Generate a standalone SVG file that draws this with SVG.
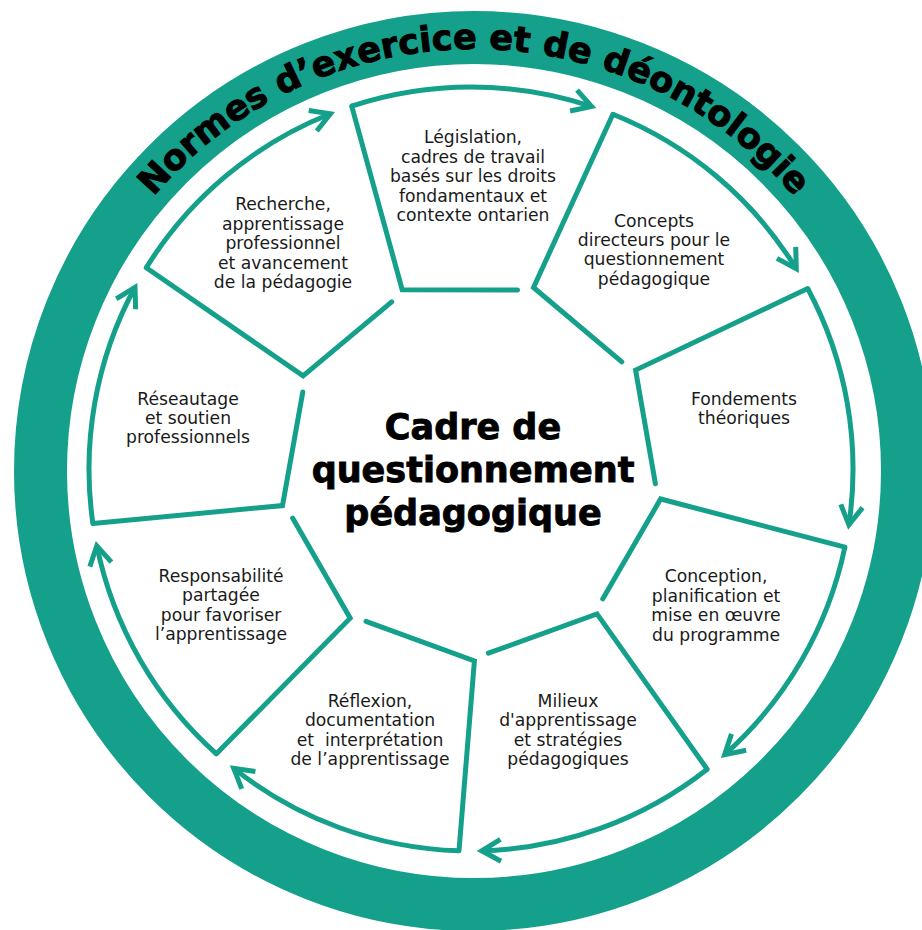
<svg xmlns="http://www.w3.org/2000/svg" xmlns:xlink="http://www.w3.org/1999/xlink" width="922" height="930" viewBox="0 0 922 930">
<style>
.edge{fill:none;stroke:#14a08b;stroke-width:5;stroke-linejoin:miter;stroke-linecap:round}
.arc{fill:none;stroke:#14a08b;stroke-width:5;stroke-linecap:butt;marker-end:url(#ah)}
.lbl{font-family:"DejaVu Sans",sans-serif;font-size:17.2px;fill:#1a1a1a;text-anchor:middle}
.title{font-family:"DejaVu Sans",sans-serif;font-weight:bold;font-size:35px;fill:#000;stroke:#000;stroke-width:0.9;text-anchor:middle}
.ringtxt{font-family:"DejaVu Sans",sans-serif;font-weight:bold;font-size:35px;fill:#000;stroke:#000;stroke-width:1}
</style>
<defs>
<marker id="ah" markerUnits="userSpaceOnUse" markerWidth="30" markerHeight="30" viewBox="-25 -15 30 30" refX="0" refY="0" orient="auto" overflow="visible">
<path d="M-19,-11 L0,0 L-19,11" fill="none" stroke="#14a08b" stroke-width="5" stroke-linejoin="miter"/>
</marker>
<path id="ringPath" d="M 52,471 A 422 422 0 0 1 896,471"/>
</defs>
<rect width="922" height="930" fill="#fff"/>
<g id="ring">
<circle cx="474" cy="471" r="433.5" fill="none" stroke="#14a08b" stroke-width="53"/>
<text class="ringtxt"><textPath xlink:href="#ringPath" href="#ringPath" startOffset="50%" text-anchor="middle">Normes d’exercice et de déontologie</textPath></text>
</g>
<g id="connectors">
<path class="arc" d="M146.3,267.7 A382,382 0 0 1 330.4,113.8"/>
<path class="arc" d="M351.7,106.1 A382,382 0 0 1 591.6,106.5"/>
<path class="arc" d="M612.9,114.3 A382,382 0 0 1 796.3,268.8"/>
<path class="arc" d="M807.7,288.5 A382,382 0 0 1 848.9,524.8"/>
<path class="arc" d="M844.9,547.1 A382,382 0 0 1 724.6,754.7"/>
<path class="arc" d="M707.2,769.2 A382,382 0 0 1 481.7,850.8"/>
<path class="arc" d="M459.0,850.8 A382,382 0 0 1 233.7,768.4"/>
<path class="arc" d="M216.4,753.8 A382,382 0 0 1 96.8,545.8"/>
<path class="arc" d="M92.9,523.5 A382,382 0 0 1 135.0,287.3"/>
</g>
<g id="node-recherche">
<path class="edge" d="M391.7,301.9 L303.1,375.9 L146.3,267.7"/>
<text class="lbl" x="283" y="210"><tspan x="283">Recherche,</tspan><tspan x="283" dy="19.5">apprentissage</tspan><tspan x="283" dy="19.5">professionnel</tspan><tspan x="283" dy="19.5">et avancement</tspan><tspan x="283" dy="19.5">de la pédagogie</tspan></text>
</g>
<g id="node-legislation">
<path class="edge" d="M517.6,290.0 L402.2,289.7 L351.7,106.1"/>
<text class="lbl" x="473" y="143"><tspan x="473">Législation,</tspan><tspan x="473" dy="19.5">cadres de travail</tspan><tspan x="473" dy="19.5">basés sur les droits</tspan><tspan x="473" dy="19.5">fondamentaux et</tspan><tspan x="473" dy="19.5">contexte ontarien</tspan></text>
</g>
<g id="node-concepts">
<path class="edge" d="M621.8,361.8 L533.5,287.5 L612.9,114.3"/>
<text class="lbl" x="654" y="227"><tspan x="654">Concepts</tspan><tspan x="654" dy="19.2">directeurs pour le</tspan><tspan x="654" dy="19.2">questionnement</tspan><tspan x="654" dy="19.2">pédagogique</tspan></text>
</g>
<g id="node-fondements">
<path class="edge" d="M655.4,483.8 L635.6,370.1 L807.7,288.5"/>
<text class="lbl" x="744" y="405"><tspan x="744">Fondements</tspan><tspan x="744" dy="19.2">théoriques</tspan></text>
</g>
<g id="node-conception">
<path class="edge" d="M602.7,598.9 L660.6,499.0 L844.9,547.1"/>
<text class="lbl" x="716" y="582"><tspan x="716">Conception,</tspan><tspan x="716" dy="19.5">planification et</tspan><tspan x="716" dy="19.5">mise en œuvre</tspan><tspan x="716" dy="19.5">du programme</tspan></text>
</g>
<g id="node-milieux">
<path class="edge" d="M488.4,653.2 L597.0,613.9 L707.2,769.2"/>
<text class="lbl" x="568" y="707"><tspan x="568">Milieux</tspan><tspan x="568" dy="19.3">d'apprentissage</tspan><tspan x="568" dy="19.3">et stratégies</tspan><tspan x="568" dy="19.3">pédagogiques</tspan></text>
</g>
<g id="node-reflexion">
<path class="edge" d="M366.0,621.3 L474.4,661.0 L459.0,850.8"/>
<text class="lbl" x="370" y="707" xml:space="preserve"><tspan x="370">Réflexion,</tspan><tspan x="370" dy="19.3">documentation</tspan><tspan x="370" dy="19.3">et  interprétation</tspan><tspan x="370" dy="19.3">de l’apprentissage</tspan></text>
</g>
<g id="node-responsabilite">
<path class="edge" d="M292.6,518.1 L350.2,618.2 L216.4,753.8"/>
<text class="lbl" x="221" y="582"><tspan x="221">Responsabilité</tspan><tspan x="221" dy="19.3">partagée</tspan><tspan x="221" dy="19.3">pour favoriser</tspan><tspan x="221" dy="19.3">l’apprentissage</tspan></text>
</g>
<g id="node-reseautage">
<path class="edge" d="M302.8,392.0 L282.5,505.6 L92.9,523.5"/>
<text class="lbl" x="188" y="405"><tspan x="188">Réseautage</tspan><tspan x="188" dy="19">et soutien</tspan><tspan x="188" dy="19">professionnels</tspan></text>
</g>
<g id="center">
<text class="title" x="473" y="439"><tspan x="473">Cadre de</tspan><tspan x="473" dy="43">questionnement</tspan><tspan x="473" dy="43">pédagogique</tspan></text>
</g>
</svg>
